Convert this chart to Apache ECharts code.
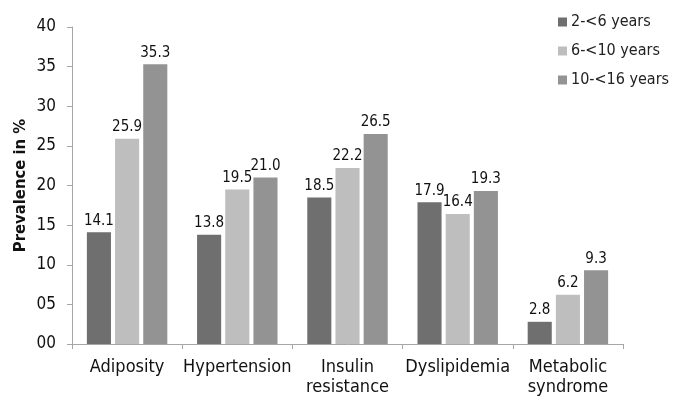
<!DOCTYPE html>
<html><head><meta charset="utf-8">
<script src="https://cdn.jsdelivr.net/npm/echarts@6/dist/echarts.min.js"></script>
<style>html,body{margin:0;padding:0;background:#fff}#c{width:676px;height:397px}</style>
</head><body><div id="c"></div>
<script>
var categories = ['Adiposity', 'Hypertension', 'Insulin\nresistance', 'Dyslipidemia', 'Metabolic\nsyndrome'];
var seriesNames = ['2-<6 years', '6-<10 years', '10-<16 years'];
var age2to6 = [14.1, 13.8, 18.5, 17.9, 2.8];
var age6to10 = [25.9, 19.5, 22.2, 16.4, 6.2];
var age10to16 = [35.3, 21.0, 26.5, 19.3, 9.3];
var colors = ['#6f6f6f', '#bebebe', '#939393'];
var font = '"DejaVu Sans Condensed", "DejaVu Sans", sans-serif';
var chart = echarts.init(document.getElementById('c'));
function mk(name, data, i) {
  return {
    name: name, type: 'bar', data: data,
    barGap: '17%', barCategoryGap: '27%',
    itemStyle: { color: colors[i] },
    label: { show: true, position: 'top', distance: 4, color: '#111', fontFamily: font, fontSize: 15,
      formatter: function (p) { return p.value.toFixed(1); } }
  };
}
chart.setOption({
  animation: false,
  textStyle: { fontFamily: font },
  grid: { left: 72, right: 53, top: 27, bottom: 53 },
  legend: {
    orient: 'vertical', left: 553, top: 9, itemWidth: 9, itemHeight: 9, itemGap: 13,
    icon: 'rect', textStyle: { fontFamily: font, fontSize: 16, color: '#222', padding: [0, 0, 0, -1] },
    data: seriesNames
  },
  xAxis: {
    type: 'category', data: categories,
    axisLine: { lineStyle: { color: '#a6a6a6' } },
    axisTick: { show: true, length: 5, lineStyle: { color: '#a6a6a6' } },
    axisLabel: { fontFamily: font, fontSize: 18, color: '#111', margin: 13, lineHeight: 20, interval: 0 }
  },
  yAxis: {
    type: 'value', min: 0, max: 40, interval: 5,
    name: 'Prevalence in %', nameLocation: 'middle', nameRotate: 90, nameGap: 43,
    nameMoveOverlap: false,
    nameTextStyle: { fontFamily: font, fontSize: 16.5, fontWeight: 'bold', color: '#111' },
    axisLine: { show: true, lineStyle: { color: '#a6a6a6' } },
    axisTick: { show: true, length: 5, lineStyle: { color: '#a6a6a6' } },
    splitLine: { show: false },
    axisLabel: { fontFamily: font, fontSize: 17, color: '#111', margin: 16,
      formatter: function (v) { return (v < 10 ? '0' : '') + v; } }
  },
  series: [mk(seriesNames[0], age2to6, 0), mk(seriesNames[1], age6to10, 1), mk(seriesNames[2], age10to16, 2)]
});
</script></body></html>
